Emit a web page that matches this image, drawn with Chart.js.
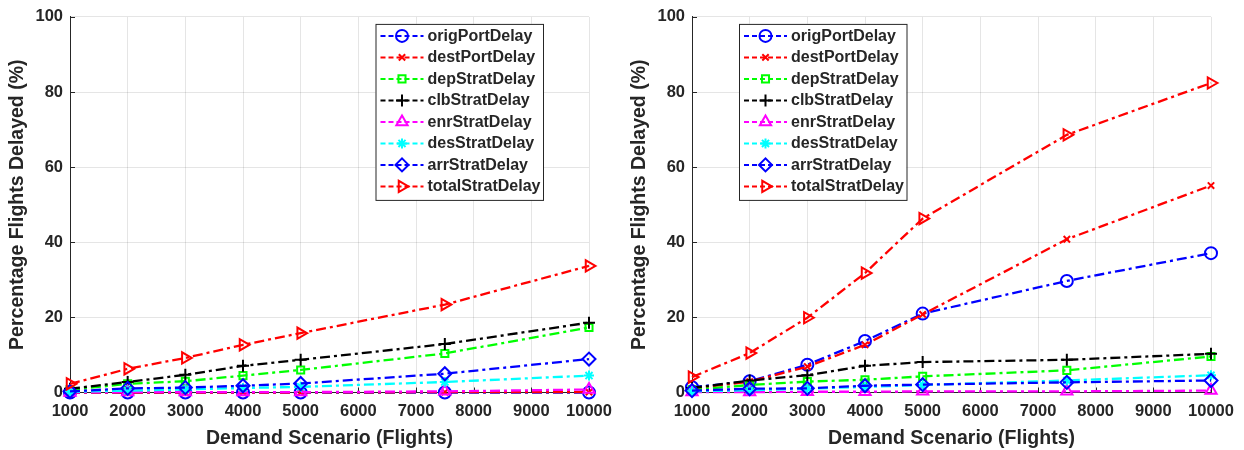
<!DOCTYPE html>
<html>
<head>
<meta charset="utf-8">
<script src="https://cdn.jsdelivr.net/npm/chart.js@4"></script>
<style>
  body { margin: 0; background: #fff; }
  .wrap { position: absolute; top: 0; width: 622px; height: 450px; }
</style>
</head>
<body>
<div class="wrap" style="left:0"><canvas id="chartA" width="622" height="450"></canvas></div>
<div class="wrap" style="left:622px"><canvas id="chartB" width="622" height="450"></canvas></div>
<script>
// demand scenarios (x axis)
const scenarios = [1000, 2000, 3000, 4000, 5000, 7500, 10000]
const seriesNames = ['origPortDelay', 'destPortDelay', 'depStratDelay', 'clbStratDelay',
  'enrStratDelay', 'desStratDelay', 'arrStratDelay', 'totalStratDelay']

// left panel
const leftOrigPort = [0, 0, 0, 0, 0, 0, 0]
const leftDestPort = [0, 0, 0, 0, 0, 0.1, 0.1]
const leftDepStrat = [0.7, 2.3, 3.0, 4.5, 6.0, 10.4, 17.3]
const leftClbStrat = [1.0, 2.8, 4.7, 7.1, 8.7, 12.9, 18.6]
const leftEnrStrat = [0, 0.1, 0.1, 0.1, 0.1, 0.3, 0.8]
const leftDesStrat = [0.2, 0.5, 0.8, 1.2, 1.5, 2.8, 4.5]
const leftArrStrat = [0.3, 1.1, 1.3, 1.8, 2.4, 5.0, 8.9]
const leftTotalStrat = [2.3, 6.3, 9.2, 12.7, 15.8, 23.4, 33.7]

// right panel
const rightOrigPort = [1.4, 3.0, 7.4, 13.7, 21.0, 29.7, 37.1]
const rightDestPort = [1.0, 2.9, 6.9, 12.7, 20.8, 40.8, 55.1]
const rightDepStrat = [0.7, 2.0, 2.9, 3.4, 4.3, 5.9, 9.6]
const rightClbStrat = [1.2, 3.2, 4.6, 7.1, 8.1, 8.7, 10.3]
const rightEnrStrat = [0.1, 0.1, 0.2, 0.2, 0.3, 0.3, 0.5]
const rightDesStrat = [0.3, 0.6, 1.0, 1.5, 2.0, 3.2, 4.6]
const rightArrStrat = [0.5, 1.0, 1.1, 1.8, 2.1, 2.7, 3.2]
const rightTotalStrat = [4.1, 10.5, 19.9, 31.8, 46.3, 68.6, 82.4]

const yTicks = [0, 20, 40, 60, 80, 100]

// marker styles, same order as seriesNames
const styles = [
  { color: '#0000ff', point: 'circle', radius: 6, rotation: 0 },
  { color: '#ff0000', point: 'crossRot', radius: 4.5, rotation: 0 },
  { color: '#00ff00', point: 'rect', radius: 5, rotation: 0 },
  { color: '#000000', point: 'cross', radius: 6, rotation: 0 },
  { color: '#ff00ff', point: 'triangle', radius: 6.5, rotation: 0 },
  { color: '#00ffff', point: 'star', radius: 5, rotation: 0 },
  { color: '#0000ff', point: 'rectRot', radius: 6.5, rotation: 0 },
  { color: '#ff0000', point: 'triangle', radius: 6.5, rotation: 90 },
]

const textColor = '#262626'
const fontFamily = 'Arial, "Liberation Sans", sans-serif'
Chart.defaults.font.family = fontFamily
Chart.defaults.color = textColor

function drawMarker(ctx, st, x, y) {
  var opts = { pointStyle: st.point, radius: st.radius, rotation: st.rotation, borderWidth: 2 }
  ctx.save()
  ctx.setLineDash([])
  ctx.strokeStyle = st.color
  ctx.fillStyle = 'rgba(0,0,0,0)'
  ctx.lineWidth = 2
  Chart.helpers.drawPoint(ctx, opts, x, y)
  ctx.restore()
}

// MATLAB style ticks pointing into the axes
const innerTicks = {
  id: 'innerTicks',
  beforeDatasetsDraw(chart) {
    const ctx = chart.ctx
    const area = chart.chartArea
    const xs = chart.scales.x, ys = chart.scales.y
    ctx.save()
    ctx.strokeStyle = textColor
    ctx.lineWidth = 1
    ctx.beginPath()
    xs.ticks.forEach((t) => {
      var px = Math.round(xs.getPixelForValue(t.value)) + 0.5
      ctx.moveTo(px, area.bottom)
      ctx.lineTo(px, area.bottom - 5)
    })
    ys.ticks.forEach((t) => {
      var py = Math.round(ys.getPixelForValue(t.value)) + 0.5
      ctx.moveTo(area.left, py)
      ctx.lineTo(area.left + 5, py)
    })
    ctx.stroke()
    ctx.restore()
  }
}

//Legend inside the axes
const boxLegend = {
  id: 'boxLegend',
  afterDatasetsDraw(chart, args, opts) {
    const ctx = chart.ctx
    const area = chart.chartArea
    var x0 = area.left + opts.offsetX
    var y0 = area.top + 7
    var w = 167.5, rowH = 21.5, h = 176
    ctx.save()
    ctx.fillStyle = '#ffffff'
    ctx.fillRect(x0, y0, w, h)
    ctx.strokeStyle = textColor
    ctx.lineWidth = 1
    ctx.strokeRect(x0 + 0.5, y0 + 0.5, w, h)
    ctx.font = 'bold 16px ' + fontFamily
    ctx.textBaseline = 'middle'
    for (var i = 0; i < seriesNames.length; i++) {
      var st = styles[i]
      var y = y0 + 12 + i * rowH
      ctx.strokeStyle = st.color
      ctx.lineWidth = 2
      ctx.setLineDash([5, 3])
      ctx.beginPath()
      ctx.moveTo(x0 + 5, y)
      ctx.lineTo(x0 + 48, y)
      ctx.stroke()
      drawMarker(ctx, st, x0 + 26.5, y)
      ctx.fillStyle = textColor
      ctx.fillText(seriesNames[i], x0 + 52, y + 0.5)
    }
    ctx.restore()
  }
}

function makeChart(canvasId, values, legendX) {
  const ctx = document.getElementById(canvasId)
  new Chart(ctx, {
    type: 'line',
    data: {
      datasets: values.map((v, i) => {
        return {
          label: seriesNames[i],
          data: v.map((y, j) => { return { x: scenarios[j], y: y } }),
          borderColor: styles[i].color,
          backgroundColor: 'rgba(0,0,0,0)',
          borderWidth: 2.3,
          borderDash: [10, 4, 3, 4],
          pointStyle: styles[i].point,
          pointRadius: styles[i].radius,
          pointRotation: styles[i].rotation,
          pointBorderWidth: 2,
          pointBorderColor: styles[i].color,
          pointBackgroundColor: 'rgba(0,0,0,0)',
          tension: 0,
          clip: false,
          order: seriesNames.length - i,
        }
      }),
    },
    options: {
      responsive: false,
      animation: false,
      events: [],
      layout: { padding: { top: 15, right: 33, left: 0, bottom: 0 } },
      plugins: {
        legend: { display: false },
        tooltip: { enabled: false },
        boxLegend: { offsetX: legendX },
      },
      scales: {
        x: {
          type: 'linear',
          min: 1000,
          max: 10000,
          afterFit: (scale) => { scale.height = 57.5 },
          ticks: {
            stepSize: 1000,
            padding: 9,
            color: textColor,
            font: { size: 16.5, weight: 'bold' },
            callback: (value) => String(value),
          },
          grid: { color: 'rgba(0,0,0,0.1)', drawTicks: false },
          border: { display: true, color: textColor, width: 1 },
          title: {
            display: true,
            text: 'Demand Scenario (Flights)',
            color: textColor,
            font: { size: 19.5, weight: 'bold' },
            padding: { top: 0, bottom: 0 },
          },
        },
        y: {
          min: 0,
          max: 100,
          afterFit: (scale) => { scale.width = 70 },
          afterBuildTicks: (scale) => { scale.ticks = yTicks.map((v) => { return { value: v } }) },
          ticks: {
            padding: 7,
            color: textColor,
            font: { size: 16.5, weight: 'bold' },
            callback: (value) => String(value),
          },
          grid: { color: 'rgba(0,0,0,0.1)', drawTicks: false },
          border: { display: true, color: textColor, width: 1 },
          title: {
            display: true,
            text: 'Percentage Flights Delayed (%)',
            color: textColor,
            font: { size: 19.5, weight: 'bold' },
            padding: { top: 6, bottom: 0 },
          },
        },
      },
    },
    plugins: [innerTicks, boxLegend],
  })
}

makeChart('chartA', [leftOrigPort, leftDestPort, leftDepStrat, leftClbStrat,
  leftEnrStrat, leftDesStrat, leftArrStrat, leftTotalStrat], 305.5)
makeChart('chartB', [rightOrigPort, rightDestPort, rightDepStrat, rightClbStrat,
  rightEnrStrat, rightDesStrat, rightArrStrat, rightTotalStrat], 47)
</script>
</body>
</html>
